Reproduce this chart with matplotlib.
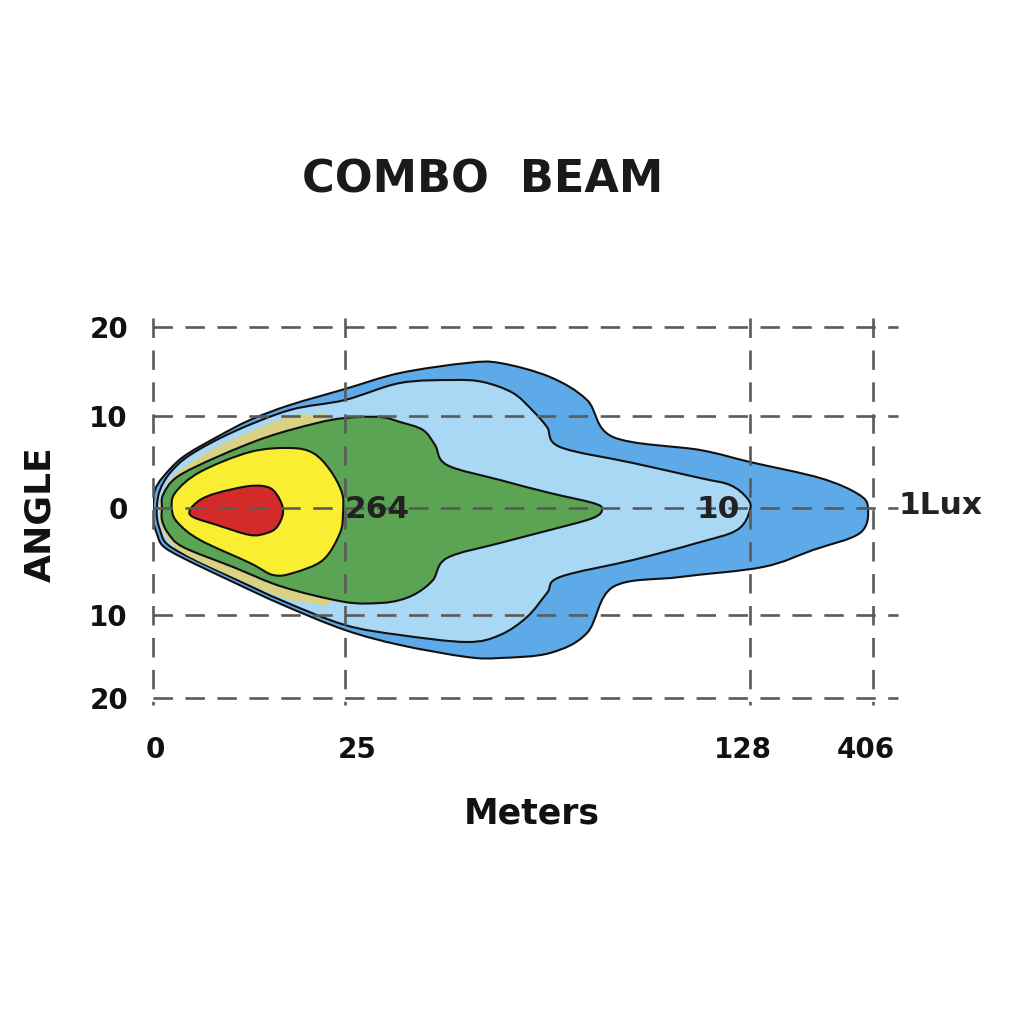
import numpy as np
import matplotlib
matplotlib.use("Agg")
import matplotlib.pyplot as plt
import matplotlib.transforms as mtransforms
from matplotlib.path import Path
from matplotlib.patches import PathPatch

plt.rcParams['font.family'] = ['DejaVu Sans']
plt.rcParams['lines.scale_dashes'] = False

# ---- data (chart position units: x = distance position, y = angle position) ----
x_tick_pos = [0, 192, 597, 720]
x_tick_labels = ['0', '25', '128', '406']
y_tick_pos = [181, 92, 0, -107, -190]
y_tick_labels = ['20', '10', '0', '10', '20']

# 1 lux contour (dark blue)
lux1_x = [0, 2, 10, 30, 64, 97, 137, 192, 247, 314, 347, 397, 434, 460, 547, 597, 667, 705, 715,
          707, 660, 610, 527, 460, 434, 397, 347, 314, 247, 192, 130, 80, 30, 10, 4, 0]
lux1_y = [3, 18, 31, 51, 71, 88, 103, 119, 135, 145, 145, 131, 108, 71, 58, 46, 30, 14, 0,
          -25, -42, -59, -69, -79, -125, -145, -150, -149, -137, -122, -97, -74, -50, -38, -26, -12]

# 10 lux contour (light blue)
lux10_x = [4, 7, 17, 37, 80, 137, 192, 247, 300, 330, 360, 380, 394, 407, 480, 547, 577, 594, 597,
           584, 544, 480, 407, 394, 374, 347, 314, 247, 192, 130, 80, 32, 13, 7, 4]
lux10_y = [3, 18, 35, 53, 76, 98, 108, 125, 128, 126, 115, 97, 81, 61, 45, 30, 23, 10, -2,
           -22, -35, -52, -69, -85, -109, -127, -134, -127, -117, -93, -70, -47, -35, -22, -10]

# transition band (khaki)
band_x = [7, 12, 27, 64, 97, 137, 160, 178, 205, 205, 178, 160, 130, 80, 30, 12, 7]
band_y = [3, 20, 38, 61, 76, 92, 93, 90, 50, -50, -94, -95, -90, -69, -45, -27, -12]

# 264 lux contour (green)
lux264_x = [9, 10, 24, 64, 114, 164, 192, 227, 247, 270, 282, 294, 347, 397, 440, 449,
            440, 397, 347, 294, 280, 264, 247, 227, 192, 130, 80, 30, 15, 9]
lux264_y = [0, 13, 31, 51, 71, 85, 90, 91, 86, 78, 63, 43, 28, 15, 5, -1,
            -10, -22, -35, -50, -72, -85, -92, -95, -94, -79, -59, -39, -25, -12]

# high intensity (yellow)
high_x = [19, 22, 47, 97, 137, 160, 177, 189, 190, 187, 170, 140, 120, 97, 47, 25]
high_y = [-2, 15, 36, 56, 60, 55, 38, 15, -5, -25, -52, -65, -67, -55, -32, -15]

# hot spot (red)
hot_x = [37, 47, 64, 97, 117, 127, 130, 124, 114, 97, 64, 40]
hot_y = [-2, 8, 15, 22, 20, 8, -5, -19, -25, -27, -17, -9]

labels_text = ['264', '10', '1Lux']

# ---- drawing ----
def smooth_closed_path(xs, ys):
    pts = np.column_stack([xs, ys]).astype(float)
    n = len(pts)
    verts = [pts[0]]
    codes = [Path.MOVETO]
    for i in range(n):
        p0 = pts[(i - 1) % n]
        p1 = pts[i]
        p2 = pts[(i + 1) % n]
        p3 = pts[(i + 2) % n]
        c1 = p1 + (p2 - p0) / 6.0
        c2 = p2 - (p3 - p1) / 6.0
        verts += [c1, c2, p2]
        codes += [Path.CURVE4] * 3
    verts.append(pts[0])
    codes.append(Path.CLOSEPOLY)
    return Path(verts, codes)

fig = plt.figure(figsize=(10.24, 10.24), dpi=100)
ax = fig.add_axes([153 / 1024, 326 / 1024, 720 / 1024, 371 / 1024])
ax.set_xlim(0, 720)
ax.set_ylim(-190, 181)
for s in ax.spines.values():
    s.set_visible(False)

shapes = [
    (lux1_x, lux1_y, '#5eaae8', True, 1),
    (lux10_x, lux10_y, '#a9d8f5', True, 2),
    (band_x, band_y, '#d9d184', False, 3),
    (lux264_x, lux264_y, '#5ba453', True, 4),
    (high_x, high_y, '#faee32', True, 5),
    (hot_x, hot_y, '#d22b29', True, 6),
]
for xs, ys, col, edge, z in shapes:
    patch = PathPatch(smooth_closed_path(xs, ys), facecolor=col,
                      edgecolor='#111111' if edge else 'none',
                      linewidth=1.5 if edge else 0, zorder=z, joinstyle='round')
    ax.add_patch(patch)

grid_kw = dict(color='#5a5a5a', linewidth=1.9, dashes=(14, 9), clip_on=False, zorder=8)
for yv in y_tick_pos:
    ax.plot([0, 745], [yv, yv], **grid_kw)
for xv in x_tick_pos:
    ax.plot([xv, xv], [190, -197], **grid_kw)

ax.set_xticks(x_tick_pos)
ax.set_xticklabels(x_tick_labels)
ax.set_yticks(y_tick_pos)
ax.set_yticklabels(y_tick_labels)
ax.tick_params(axis='x', length=0, pad=27, labelsize=20)
ax.tick_params(axis='y', length=0, pad=18, labelsize=20)
for lab in ax.get_xticklabels() + ax.get_yticklabels():
    lab.set_fontweight('bold')
    lab.set_color('#111111')

# small horizontal shifts of the x tick labels, as in the original artwork (pixels)
x_label_shift_px = [2, 12, -7, -7]
for lab, dx in zip(ax.get_xticklabels(), x_label_shift_px):
    lab.set_transform(lab.get_transform() +
                      mtransforms.ScaledTranslation(dx / 100, 0, fig.dpi_scale_trans))

ax.set_xlabel('Meters', fontsize=25, fontweight='bold', color='#111111', va='center')
ax.xaxis.set_label_coords((532 - 153) / 720, (698 - 813) / 371)
ax.set_ylabel('ANGLE', fontsize=26, fontweight='bold', color='#111111', va='center', ha='center')
ax.yaxis.set_label_coords((40 - 153) / 720, (698 - 514) / 371)

txt_kw = dict(fontsize=22.5, fontweight='bold', color='#222222', zorder=10, va='center')
ax.text(224, -2, labels_text[0], ha='center', **txt_kw)
ax.text(565, -1, labels_text[1], ha='center', **txt_kw)
ax.text(745, 3, labels_text[2], ha='left', clip_on=False, **txt_kw)

fig.text(483 / 1024, 1 - 180 / 1024, 'COMBO  BEAM', ha='center', va='center',
         fontsize=32, fontweight='bold', color='#1a1a1a')

fig.savefig('out.png', dpi=100, facecolor='white')
